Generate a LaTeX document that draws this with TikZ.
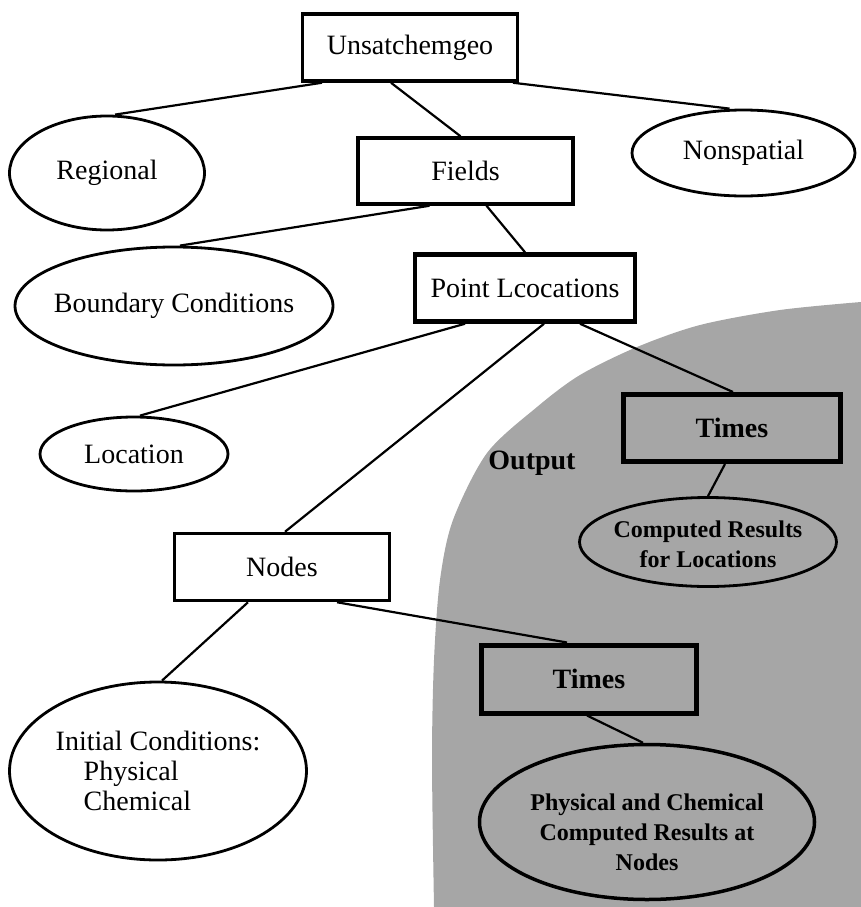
\documentclass[tikz,border=0pt]{standalone}
\usepackage{fontspec}
\setmainfont{Liberation Serif}
\usetikzlibrary{shapes.geometric}

\tikzset{
  box/.style={draw, line width=3.5pt, inner sep=0pt, font=\fontsize{28}{30}\selectfont},
  outbox/.style={box, line width=5pt, font=\bfseries\fontsize{28}{30}\selectfont},
  oval/.style={ellipse, draw, line width=2.8pt, inner sep=0pt},
  ovaltext/.style={font=\fontsize{28}{30}\selectfont, align=center},
  outtext/.style={font=\bfseries\fontsize{24}{30}\selectfont, align=center},
  link/.style={line width=2.2pt},
}

\begin{document}
\begin{tikzpicture}[x=1pt, y=-1pt]
    \useasboundingbox (0,0) rectangle (861,907);
    % output region
    \fill[black!35] plot[smooth] coordinates {(861,302) (780,310) (700,325) (637,347)
        (580,375) (537,407) (487,453) (453,520) (440,580) (434,660) (432,760) (434,907)}
        -- (861,907) -- cycle;

    \node[box, minimum width=215pt, minimum height=67pt] (top) at (410,47.5) {Unsatchemgeo};
    \node[oval, minimum width=195pt, minimum height=114pt, label={[ovaltext]center:Regional}] (regional) at (107,173) {};
    \node[box, minimum width=215pt, minimum height=66pt] (fields) at (465.5,171) {Fields};
    \node[oval, minimum width=223pt, minimum height=86pt, label={[ovaltext]center:Nonspatial}] (nonspatial) at (743.5,153) {};
    \node[oval, minimum width=318pt, minimum height=118pt, label={[ovaltext]center:Boundary Conditions}] (boundary) at (174,306) {};
    \node[box, line width=4.5pt, minimum width=220pt, minimum height=67pt] (point) at (525,288) {Point Lcocations};
    \node[oval, minimum width=188pt, minimum height=74pt, label={[ovaltext]center:Location}] (location) at (134,454) {};
    \node[outbox, minimum width=217pt, minimum height=67pt] (timesloc) at (732,428) {Times};
    \node[font=\bfseries\fontsize{28}{30}\selectfont] (output) at (532,463) {Output};
    \node[oval, minimum width=257pt, minimum height=89pt, label={[outtext, yshift=-2pt]center:{Computed Results\\for Locations}}] (comploc) at (708,542) {};
    \node[box, minimum width=215pt, minimum height=67pt] (nodes) at (282,567) {Nodes};
    \node[oval, minimum width=297pt, minimum height=178pt,
        label={[ovaltext, align=left]center:{Initial Conditions:\\\hspace*{1em}Physical\\\hspace*{1em}Chemical}}] (initial) at (158,771) {};
    \node[outbox, minimum width=215pt, minimum height=68pt] (timesnode) at (589,679) {Times};
    \node[oval, line width=3.5pt, minimum width=335pt, minimum height=155pt,
        label={[outtext, yshift=-10pt]center:{Physical and Chemical\\Computed Results at\\Nodes}}] (physchem) at (647,822) {};

    \draw[link] ([xshift=-88pt]top.south) -- ([xshift=8pt]regional.north);
    \draw[link] ([xshift=-19pt]top.south) -- ([xshift=-5pt]fields.north);
    \draw[link] ([xshift=103pt]top.south) -- ([xshift=-14pt]nonspatial.north);
    \draw[link] ([xshift=-36pt]fields.south) -- ([xshift=6pt]boundary.north);
    \draw[link] ([xshift=21pt]fields.south) -- (point.north);
    \draw[link] ([xshift=-60pt]point.south) -- ([xshift=6pt]location.north);
    \draw[link] ([xshift=19pt]point.south) -- ([xshift=3pt]nodes.north);
    \draw[link] ([xshift=55pt]point.south) -- ([xshift=1pt]timesloc.north);
    \draw[link] ([xshift=-7pt]timesloc.south) -- (comploc.north);
    \draw[link] ([xshift=-34pt]nodes.south) -- ([xshift=4pt]initial.north);
    \draw[link] ([xshift=55pt]nodes.south) -- ([xshift=-22pt]timesnode.north);
    \draw[link] ([xshift=-2pt]timesnode.south) -- ([xshift=-4pt]physchem.north);
\end{tikzpicture}
\end{document}
